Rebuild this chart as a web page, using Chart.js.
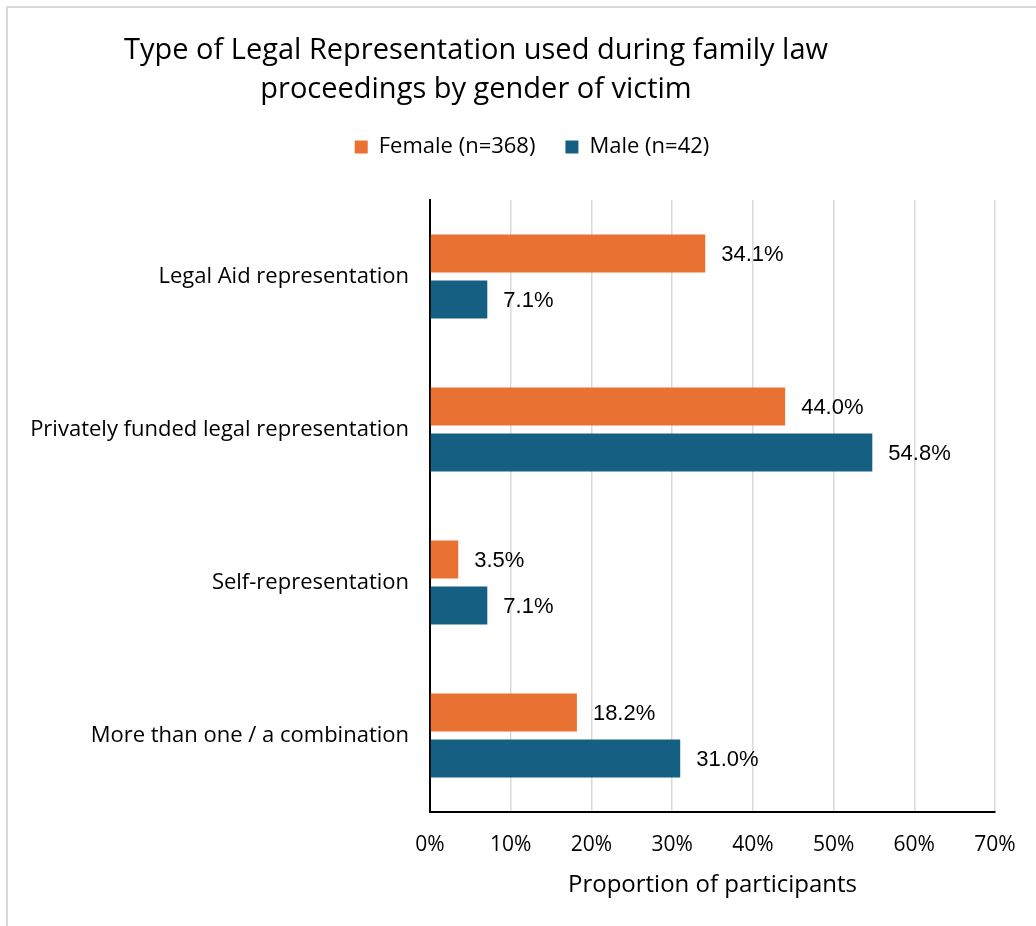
<!DOCTYPE html>
<html>
<head>
<meta charset="utf-8">
<script src="https://cdn.jsdelivr.net/npm/chart.js@4"></script>
<style>
  html, body { margin: 0; padding: 0; background: #fff; }
  #wrap { position: relative; width: 1036px; height: 926px; overflow: hidden; }
  #frame { position: absolute; left: 6px; top: 6px; width: 1100px; height: 1000px;
           border-left: 2px solid #d9d9d9; border-top: 2px solid #d9d9d9; }
  #title { position: absolute; left: 0; width: 952px; top: 28px; text-align: center;
           font-family: "Open Sans", sans-serif; font-size: 29px; line-height: 39px; color: #000; }
  canvas { position: absolute; left: 0; top: 0; }
</style>
</head>
<body>
<div id="wrap">
  <div id="frame"></div>
  <canvas id="chart" width="1036" height="926"></canvas>
  <div id="title">Type of Legal Representation used during family law<br>proceedings by gender of victim</div>
</div>
<script>
const categories = ['Legal Aid representation', 'Privately funded legal representation', 'Self-representation', 'More than one / a combination'];
const female = [34.1, 44.0, 3.5, 18.2];
const male = [7.1, 54.8, 7.1, 31.0];
const seriesNames = ['Female (n=368)', 'Male (n=42)'];
const xTicks = [0, 10, 20, 30, 40, 50, 60, 70];

const uiFont = '"Open Sans", sans-serif';

// value labels just past the end of each bar
const barLabels = {
  id: 'barLabels',
  afterDatasetsDraw(chart) {
    const c = chart.ctx;
    c.save();
    c.font = '22px "Liberation Sans", Arial, sans-serif';
    c.fillStyle = '#000';
    c.textBaseline = 'middle';
    c.textAlign = 'left';
    chart.data.datasets.forEach((ds, i) => {
      chart.getDatasetMeta(i).data.forEach((bar, j) => {
        c.fillText(ds.data[j].toFixed(1) + '%', bar.x + 16, bar.y + 1);
      });
    });
    c.restore();
  }
};

// long category names run into the left padding; don't clip them there
const unclipY = {
  id: 'unclipY',
  afterLayout(chart) { chart.scales.y.left = 0; }
};

new Chart(document.getElementById('chart'), {
  type: 'bar',
  data: {
    labels: categories,
    datasets: [
      { label: seriesNames[0], data: female, backgroundColor: '#E97132', xAxisID: 'x', yAxisID: 'y' },
      { label: seriesNames[1], data: male, backgroundColor: '#156082', xAxisID: 'x', yAxisID: 'y' }
    ]
  },
  options: {
    indexAxis: 'y',
    responsive: false,
    animation: false,
    categoryPercentage: 0.6,
    barPercentage: 0.83,
    layout: { padding: { top: 106, left: 69, right: 41, bottom: 24 } },
    plugins: {
      title: { display: false },
      tooltip: { enabled: false },
      legend: {
        position: 'top',
        labels: {
          boxWidth: 13, boxHeight: 13, padding: 30,
          color: '#000',
          font: { family: uiFont, size: 22 }
        }
      }
    },
    scales: {
      x: {
        min: 0, max: 70,
        afterBuildTicks(axis) { axis.ticks = xTicks.map(v => ({ value: v })); },
        afterFit(axis) { axis.height = 90; },
        grid: { color: '#d9d9d9', lineWidth: 1.5, drawTicks: false },
        border: { color: '#000', width: 2 },
        ticks: {
          color: '#000', padding: 20,
          font: { family: uiFont, size: 21 },
          callback: v => v + '%'
        },
        title: {
          display: true, text: 'Proportion of participants', color: '#000',
          font: { family: uiFont, size: 24 }, padding: { top: 0, bottom: 2 }
        }
      },
      y: {
        afterFit(axis) { axis.width = 430 - 69; },
        grid: { display: false },
        border: { color: '#000', width: 2 },
        ticks: {
          color: '#000', padding: 13,
          font: { family: uiFont, size: 22 }
        }
      },
      // empty strip between the legend and the plot
      gap: {
        type: 'linear', position: 'top', display: true,
        grid: { display: false }, border: { display: false }, ticks: { display: false },
        afterFit(axis) { axis.height = 32; }
      }
    }
  },
  plugins: [barLabels, unclipY]
});
</script>
</body>
</html>
